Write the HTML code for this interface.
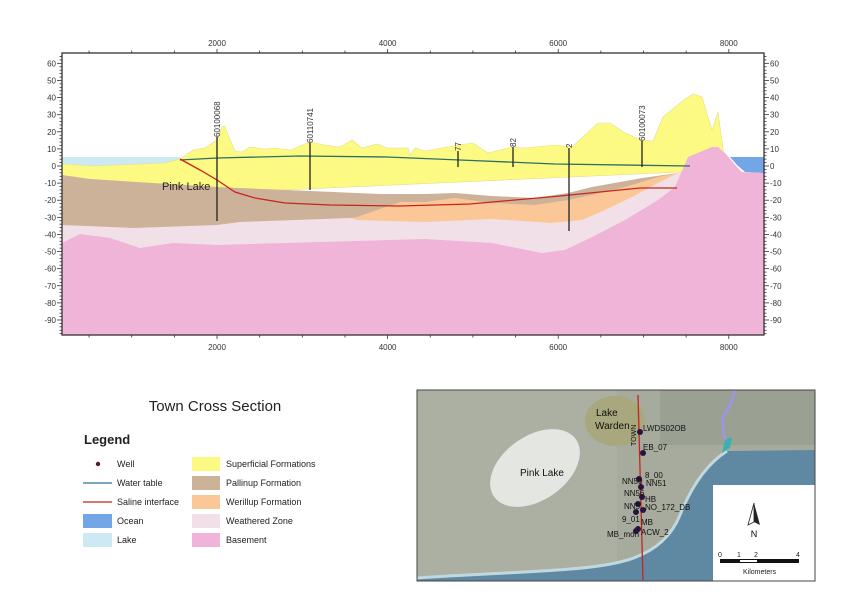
<!DOCTYPE html>
<html><head><meta charset="utf-8"><style>
html,body{margin:0;padding:0;background:#fff;}
svg{display:block;font-family:"Liberation Sans",Arial,sans-serif;}
</style></head><body>
<svg id="s" width="850" height="601" viewBox="0 0 850 601" xmlns="http://www.w3.org/2000/svg">
<rect width="850" height="601" fill="#fff"/>
<defs><clipPath id="pc"><rect x="62" y="53" width="702" height="282"/></clipPath></defs>
<g clip-path="url(#pc)">
<polygon fill="#cce9f4" points="62,157 180,157 180,161 165,163 93,166 62,165"/>
<polygon fill="#fdfa83" stroke="#e4df8a" stroke-width="0.6" points="62,164 93,166 165,163 180,159 193,150 205,148 217,140 222,127 225,126 228,135 235,151 242,152 250,147 265,149 275,148 290,150 310,142 325,145 340,147 352,140 362,148 377,144 387,148 408,148 410,155 415,148 425,151 458,145 473,143 488,153 512,147 525,148 555,145 572,147 598,123 610,123 625,133 642,140 653,141 663,117 675,107 688,97 693,94 702,97 712,130 718,112 723,148 725,170 62,200"/>
<polygon fill="#cdb29a" points="62,175 90,179 217,187 380,194 425,194 455,193 492,196 535,198 568,193 592,187 642,178 678,173 690,170 690,335 62,335"/>
<polygon fill="#fcc797" points="350,218 357,217 400,202 425,202 455,198 492,203 535,205 568,200 592,195 625,187 658,177 678,173 690,172 690,335 350,335"/>
<polygon fill="#f2e0e8" points="62,225 133,228 217,225 240,222 350,218 357,220 425,222 492,219 552,223 582,220 605,210 632,197 658,183 678,173 700,168 700,335 62,335"/>
<polygon fill="#73a6e6" points="730,157 764,157 764,173 745,172 737,165"/>
<polygon fill="#f0b4d8" points="62,243 80,234 110,238 140,248 173,243 217,245 425,239 492,243 542,253 565,250 592,237 625,220 658,200 675,187 688,157 712,147 718,147 725,153 737,167 742,172 764,173 764,335 62,335"/>
<polyline fill="none" stroke="#2e6f66" stroke-width="1.3" points="180,160 217,158 300,156 387,157 460,160 555,164 690,166"/>
<polyline fill="none" stroke="#c8241c" stroke-width="1.3" points="180,159 200,170 217,180 235,192 255,198 285,203 330,205 400,206 470,204 560,196 640,188 677,188"/>
<g stroke="#222" stroke-width="1.3">
<line x1="217" y1="137" x2="217" y2="221"/>
<line x1="310" y1="143" x2="310" y2="190"/>
<line x1="458" y1="151" x2="458" y2="167"/>
<line x1="513" y1="147" x2="513" y2="167"/>
<line x1="569" y1="148" x2="569" y2="231"/>
<line x1="642" y1="141" x2="642" y2="167"/>
</g>
<g font-size="8" fill="#333">
<text transform="translate(220,137) rotate(-90)">60100068</text>
<text transform="translate(313,143) rotate(-90)">60110741</text>
<text transform="translate(461,151) rotate(-90)">77</text>
<text transform="translate(516,147) rotate(-90)">82</text>
<text transform="translate(572,148) rotate(-90)">2</text>
<text transform="translate(645,141) rotate(-90)">60100073</text>
</g>
<text x="162" y="190" font-size="11" fill="#222">Pink Lake</text>
</g>
<rect x="62" y="53" width="702" height="282" fill="none" stroke="#333" stroke-width="1.3"/>
<g id="ticks" stroke="#333" stroke-width="0.8"></g>
<g id="lbl" font-size="8" fill="#333"></g>

<text x="215" y="411" font-size="15" text-anchor="middle" fill="#222">Town Cross Section</text>
<text x="84" y="444" font-size="13" font-weight="bold" fill="#222">Legend</text>
<g font-size="9" fill="#222">
<circle cx="98" cy="464" r="2.2" fill="#5a1a1a"/><text x="117" y="467">Well</text>
<line x1="83" y1="483" x2="112" y2="483" stroke="#2e6f9a" stroke-width="1.2"/><text x="117" y="486">Water table</text>
<line x1="83" y1="502" x2="112" y2="502" stroke="#c8241c" stroke-width="1.2"/><text x="117" y="505">Saline interface</text>
<rect x="83" y="514" width="29" height="14" fill="#73a6e6"/><text x="117" y="524">Ocean</text>
<rect x="83" y="533" width="29" height="14" fill="#cce9f4"/><text x="117" y="543">Lake</text>
<rect x="192" y="457" width="28" height="14" fill="#fdfa83"/><text x="226" y="467">Superficial Formations</text>
<rect x="192" y="476" width="28" height="14" fill="#cdb29a"/><text x="226" y="486">Pallinup Formation</text>
<rect x="192" y="495" width="28" height="14" fill="#fcc797"/><text x="226" y="505">Werillup Formation</text>
<rect x="192" y="514" width="28" height="14" fill="#f2e0e8"/><text x="226" y="524">Weathered Zone</text>
<rect x="192" y="533" width="28" height="14" fill="#f0b4d8"/><text x="226" y="543">Basement</text>
</g>

<defs><clipPath id="mc"><rect x="417" y="390" width="398" height="191"/></clipPath></defs>
<g clip-path="url(#mc)">
<rect x="417" y="390" width="398" height="191" fill="#a6ab9d"/>
<rect x="417" y="390" width="200" height="191" fill="#abb0a3"/>
<rect x="660" y="390" width="155" height="55" fill="#9aa192"/>
<path d="M727,451 C705,465 690,490 680,515 C670,540 650,555 620,562 C580,572 500,572 417,578 L417,581 L815,581 L815,450 Z" fill="#5f88a2"/>
<path d="M727,451 C705,465 690,490 680,515 C670,540 650,555 620,562 C580,572 500,572 417,578" fill="none" stroke="#c2d8df" stroke-width="3"/>
<ellipse cx="615" cy="421" rx="30" ry="25" fill="#a8a77e"/>
<ellipse cx="535" cy="468" rx="50" ry="32" transform="rotate(-35 535 468)" fill="#e4e6e2"/>
<path d="M735,390 L730,405 L722,420 L725,440" fill="none" stroke="#9b97e0" stroke-width="3"/>
<path d="M725,440 L732,437 L730,448 L722,453 Z" fill="#3ab0b0"/>
<line x1="638" y1="395" x2="643" y2="580" stroke="#c8241c" stroke-width="1.3"/>
<g fill="#2a1240">
<circle cx="640" cy="432" r="3"/><circle cx="643" cy="453" r="3"/><circle cx="639" cy="479" r="3"/><circle cx="641" cy="487" r="3"/><circle cx="642" cy="497" r="3"/><circle cx="638" cy="504" r="3"/><circle cx="643" cy="510" r="3"/><circle cx="636" cy="512" r="3"/><circle cx="638" cy="529" r="3"/><circle cx="636" cy="531" r="3"/>
</g>
<g font-size="8" fill="#111">
<text x="596" y="416" font-size="10">Lake</text><text x="595" y="429" font-size="10">Warden</text>
<text x="643" y="431">LWDS02OB</text>
<text transform="translate(636,446) rotate(-90)" font-size="7">TOWN</text>
<text x="643" y="450">EB_07</text>
<text x="645" y="478">8_00</text>
<text x="622" y="484">NN50</text><text x="646" y="486">NN51</text>
<text x="624" y="496">NN56</text><text x="645" y="502">HB</text>
<text x="624" y="509">NN5</text><text x="645" y="510">NO_172_DB</text>
<text x="622" y="522">9_01</text><text x="641" y="525">MB</text>
<text x="607" y="537">MB_mon</text><text x="641" y="535">ACW_2</text>
<text x="520" y="476" font-size="10">Pink Lake</text>
</g>
<rect x="713" y="485" width="102" height="96" fill="#fff"/>
<path d="M754,503 L748,525 L754,522 Z" fill="#fff" stroke="#222" stroke-width="0.8"/>
<path d="M754,503 L760,525 L754,522 Z" fill="#222"/>
<text x="754" y="537" font-size="9" text-anchor="middle">N</text>
<g font-size="7" fill="#222"><text x="718" y="557">0</text><text x="737" y="557">1</text><text x="754" y="557">2</text><text x="796" y="557">4</text>
<text x="743" y="574">Kilometers</text></g>
<rect x="720" y="559" width="79" height="4" fill="#111"/><rect x="740" y="560" width="17" height="2" fill="#fff"/>
</g>
<rect x="417" y="390" width="398" height="191" fill="none" stroke="#444" stroke-width="1"/>
</svg>
<script>
var t=document.getElementById('ticks'),l=document.getElementById('lbl'),ns='http://www.w3.org/2000/svg';
function ln(a,b,c,d){var e=document.createElementNS(ns,'line');e.setAttribute('x1',a);e.setAttribute('y1',b);e.setAttribute('x2',c);e.setAttribute('y2',d);t.appendChild(e);}
function tx(x,y,s,anc){var e=document.createElementNS(ns,'text');e.setAttribute('x',x);e.setAttribute('y',y);e.setAttribute('text-anchor',anc);e.textContent=s;l.appendChild(e);}
function Y(v){return 166-1.711*v;}
for(var v=-98;v<=64;v+=2){var y=Y(v);if(y<53||y>335)continue;var m=(v%10==0);var L=m?5:2.5;ln(62,y,62-L,y);ln(764,y,764+L,y);
 if(m&&v>=-90&&v<=60){tx(56,y+3,String(v),'end');tx(770,y+3,String(v),'start');}}
function X(d){return 217+(d-2000)*0.0853;}
for(var d=500;d<=8500;d+=500){var x=X(d);if(x<62||x>764)continue;var m=(d%2000==0);var L=m?4:2.5;ln(x,53,x,53-L);ln(x,335,x,335+L);
 if(m){tx(x,46,String(d),'middle');tx(x,350,String(d),'middle');}}
</script>
</body></html>
